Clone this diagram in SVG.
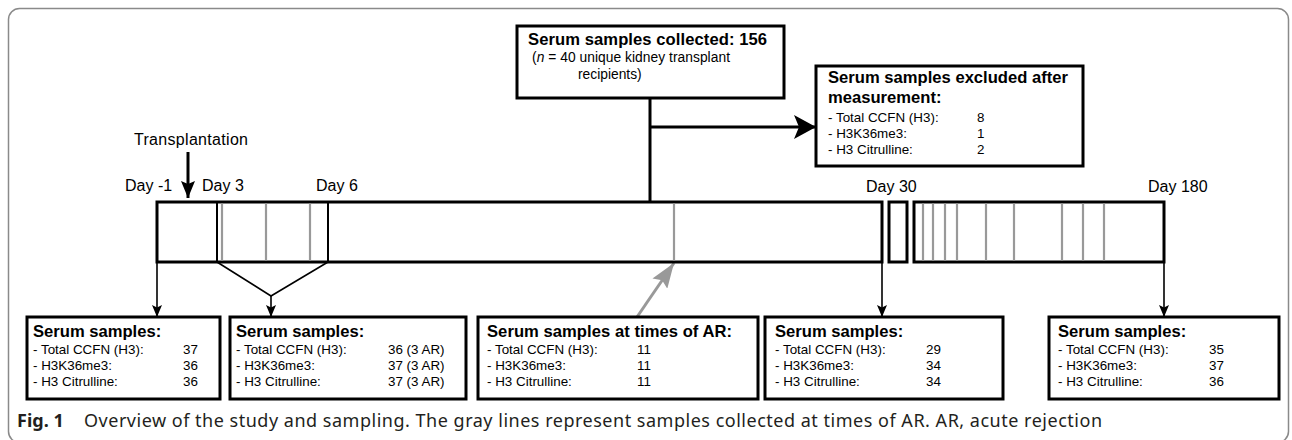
<svg xmlns="http://www.w3.org/2000/svg" width="1292" height="440" viewBox="0 0 1292 440">
<style>
text{font-family:"Liberation Sans",Arial,sans-serif;fill:#000}
.h{font-size:16.6px;font-weight:bold}
.r{font-size:13.4px}
.d{font-size:16px}
.box{fill:#fff;stroke:#000;stroke-width:3}
.tl{fill:#fff;stroke:#000;stroke-width:3}
.div{stroke:#000;stroke-width:2}
.g{stroke:#999;stroke-width:2.2}
.thin{stroke:#000;stroke-width:1.6;fill:none}
.thick{stroke:#000;stroke-width:3;fill:none}
.cap{font-family:"Noto Sans","Open Sans",sans-serif;font-size:18px;fill:#231f20}
</style>
<defs>
<marker id="sm" markerUnits="userSpaceOnUse" viewBox="0 0 12 10" refX="12" refY="5" markerWidth="12" markerHeight="10" orient="auto"><path d="M0,0 L12,5 L0,10 L2.5,5 z" fill="#000"/></marker>
<marker id="big" markerUnits="userSpaceOnUse" viewBox="0 0 22 24" refX="22" refY="12" markerWidth="22" markerHeight="24" orient="auto"><path d="M0,0 L22,12 L0,24 L5,12 z" fill="#000"/></marker>
<marker id="tp" markerUnits="userSpaceOnUse" viewBox="0 0 17 14" refX="17" refY="7" markerWidth="17" markerHeight="14" orient="auto"><path d="M0,0 L17,7 L0,14 L3,7 z" fill="#000"/></marker>
<marker id="gr" markerUnits="userSpaceOnUse" viewBox="0 0 25 18" refX="25" refY="9" markerWidth="25" markerHeight="18" orient="auto"><path d="M0,0 L25,9 L0,18 L4,9 z" fill="#999"/></marker>
</defs>
<rect x="8.5" y="8.5" width="1280" height="434" rx="11" fill="#fff" stroke="#8a8a8a" stroke-width="1.5"/>

<g id="connectors">
<line class="thick" x1="650" y1="98" x2="650" y2="202"/>
<line class="thick" x1="650" y1="127" x2="816" y2="127" marker-end="url(#big)"/>
<line class="thick" x1="188" y1="152" x2="188" y2="198" stroke-width="2.5" marker-end="url(#tp)"/>
<line class="thin" x1="157" y1="262" x2="157" y2="317" marker-end="url(#sm)"/>
<polyline class="thin" points="217,262 271,296 328,262"/>
<line class="thin" x1="271" y1="296" x2="271" y2="317" marker-end="url(#sm)"/>
<line class="thin" x1="882" y1="262" x2="882" y2="317" marker-end="url(#sm)"/>
<line class="thin" x1="1164" y1="262" x2="1164" y2="317" marker-end="url(#sm)"/>
<line x1="637" y1="317" x2="674" y2="263" stroke="#999" stroke-width="3" marker-end="url(#gr)"/>
</g>

<g id="timeline">
<rect class="tl" x="157" y="202" width="725" height="60"/>
<rect class="tl" x="889" y="202" width="18" height="60"/>
<rect class="tl" x="914" y="202" width="250" height="60"/>
<line class="div" x1="217" y1="202" x2="217" y2="262"/>
<line class="div" x1="328" y1="202" x2="328" y2="262"/>
<g class="g">
<line x1="222" y1="203.5" x2="222" y2="260.5"/>
<line x1="266" y1="203.5" x2="266" y2="260.5"/>
<line x1="310" y1="203.5" x2="310" y2="260.5"/>
<line x1="674" y1="203.5" x2="674" y2="260.5"/>
<line x1="923" y1="203.5" x2="923" y2="260.5"/>
<line x1="933" y1="203.5" x2="933" y2="260.5"/>
<line x1="945" y1="203.5" x2="945" y2="260.5"/>
<line x1="957" y1="203.5" x2="957" y2="260.5"/>
<line x1="986" y1="203.5" x2="986" y2="260.5"/>
<line x1="1014" y1="203.5" x2="1014" y2="260.5"/>
<line x1="1062" y1="203.5" x2="1062" y2="260.5"/>
<line x1="1083" y1="203.5" x2="1083" y2="260.5"/>
<line x1="1104" y1="203.5" x2="1104" y2="260.5"/>
</g>
<text class="d" x="125" y="191">Day -1</text>
<text class="d" x="202" y="191">Day 3</text>
<text class="d" x="316" y="191">Day 6</text>
<text class="d" x="866" y="192">Day 30</text>
<text class="d" x="1148" y="192">Day 180</text>
<text class="d" x="134" y="145" textLength="114">Transplantation</text>
</g>

<g id="collected">
<rect class="box" x="517" y="26" width="267" height="72"/>
<text class="h" x="528" y="45" textLength="239">Serum samples collected: 156</text>
<text x="532" y="62" font-size="13.8" textLength="198">(<tspan font-style="italic">n</tspan> = 40 unique kidney transplant</text>
<text x="578" y="79" font-size="13.8">recipients)</text>
</g>

<g id="excluded">
<rect class="box" x="816" y="66" width="267" height="100"/>
<text class="h" x="828" y="83" textLength="240">Serum samples excluded after</text>
<text class="h" x="828" y="103">measurement:</text>
<text class="r" x="828" y="122">- Total CCFN (H3):</text>
<text class="r" x="828" y="138">- H3K36me3:</text>
<text class="r" x="828" y="154">- H3 Citrulline:</text>
<text class="r" x="977" y="122">8</text>
<text class="r" x="977" y="138">1</text>
<text class="r" x="977" y="154">2</text>
</g>

<g id="box-day-1">
<rect class="box" x="27" y="317" width="193" height="82"/>
<text class="h" x="33" y="337">Serum samples:</text>
<text class="r" x="33" y="354">- Total CCFN (H3):</text>
<text class="r" x="33" y="370">- H3K36me3:</text>
<text class="r" x="33" y="386">- H3 Citrulline:</text>
<text class="r" x="183" y="354">37</text>
<text class="r" x="183" y="370">36</text>
<text class="r" x="183" y="386">36</text>
</g>

<g id="box-day3-6">
<rect class="box" x="230" y="317" width="236" height="82"/>
<text class="h" x="236" y="337">Serum samples:</text>
<text class="r" x="236" y="354">- Total CCFN (H3):</text>
<text class="r" x="236" y="370">- H3K36me3:</text>
<text class="r" x="236" y="386">- H3 Citrulline:</text>
<text class="r" x="388" y="354">36 (3 AR)</text>
<text class="r" x="388" y="370">37 (3 AR)</text>
<text class="r" x="388" y="386">37 (3 AR)</text>
</g>

<g id="box-ar">
<rect class="box" x="478" y="317" width="280" height="82"/>
<text class="h" x="487" y="337" textLength="245">Serum samples at times of AR:</text>
<text class="r" x="487" y="354">- Total CCFN (H3):</text>
<text class="r" x="487" y="370">- H3K36me3:</text>
<text class="r" x="487" y="386">- H3 Citrulline:</text>
<text class="r" x="637" y="354">11</text>
<text class="r" x="637" y="370">11</text>
<text class="r" x="637" y="386">11</text>
</g>

<g id="box-day30">
<rect class="box" x="765" y="317" width="238" height="82"/>
<text class="h" x="775" y="337">Serum samples:</text>
<text class="r" x="775" y="354">- Total CCFN (H3):</text>
<text class="r" x="775" y="370">- H3K36me3:</text>
<text class="r" x="775" y="386">- H3 Citrulline:</text>
<text class="r" x="926" y="354">29</text>
<text class="r" x="926" y="370">34</text>
<text class="r" x="926" y="386">34</text>
</g>

<g id="box-day180">
<rect class="box" x="1049" y="317" width="230" height="82"/>
<text class="h" x="1058" y="337">Serum samples:</text>
<text class="r" x="1058" y="354">- Total CCFN (H3):</text>
<text class="r" x="1058" y="370">- H3K36me3:</text>
<text class="r" x="1058" y="386">- H3 Citrulline:</text>
<text class="r" x="1209" y="354">35</text>
<text class="r" x="1209" y="370">37</text>
<text class="r" x="1209" y="386">36</text>
</g>

<g id="caption">
<text class="cap" x="17" y="427" font-weight="bold">Fig. 1</text>
<text class="cap" x="84" y="427" textLength="1018">Overview of the study and sampling. The gray lines represent samples collected at times of AR. AR, acute rejection</text>
</g>
</svg>
